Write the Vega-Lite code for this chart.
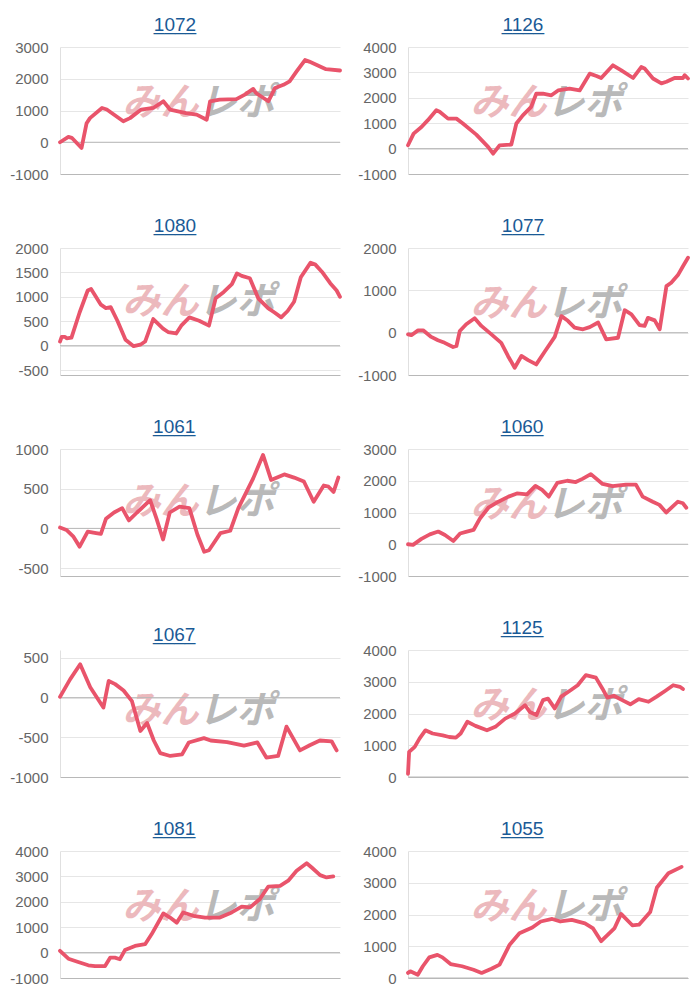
{
"$schema": "https://vega.github.io/schema/vega-lite/v6.json",
"padding": {"top": 15, "left": 8, "right": 5, "bottom": 5},
"background": "white",
"columns": 2,
"spacing": {"row": 34, "column": 14},
"config": {
  "view": {"stroke": null},
  "font": "Liberation Sans",
  "title": {"fontSize": 19, "color": "#1a5a96", "fontWeight": "normal", "offset": 4, "anchor": "middle", "frame": "bounds", "font": "Liberation Sans", "subtitleFont": "Liberation Sans", "subtitleFontSize": 19, "subtitleColor": "#1a5a96", "subtitlePadding": -20},
  "axisY": {"grid": true, "gridColor": "#e6e6e6", "domainColor": "#e0e0e0", "ticks": false, "labelPadding": 12, "labelFontSize": 15, "labelColor": "#666666", "labelFont": "Liberation Sans", "minExtent": 52, "maxExtent": 52, "labelExpr": "datum.value + ''", "labelOverlap": false, "labelFlush": false, "tickCount": 12},
  "axisX": {"labels": false, "ticks": false, "grid": false, "domainColor": "#b8b8b8"},
  "line": {"color": "#e9546b", "strokeWidth": 3.8, "strokeJoin": "round", "strokeCap": "round"},
  "rule": {"color": "#b8b8b8", "strokeWidth": 1}
},
"datasets": {
  "p1072": [{"x":0,"y":0},{"x":3,"y":170},{"x":4.2,"y":140},{"x":7.7,"y":-180},{"x":9.5,"y":600},{"x":10.7,"y":760},{"x":15,"y":1080},{"x":16.7,"y":1030},{"x":22.6,"y":660},{"x":25,"y":760},{"x":29,"y":1030},{"x":33.3,"y":1080},{"x":36.9,"y":1290},{"x":39.3,"y":1030},{"x":45,"y":920},{"x":48.8,"y":870},{"x":52.4,"y":710},{"x":53.6,"y":1290},{"x":57,"y":1340},{"x":63,"y":1360},{"x":66,"y":1500},{"x":69,"y":1680},{"x":70,"y":1550},{"x":74.4,"y":1290},{"x":76.8,"y":1710},{"x":79.8,"y":1810},{"x":82,"y":1920},{"x":84.5,"y":2230},{"x":87.5,"y":2590},{"x":89,"y":2540},{"x":95,"y":2300},{"x":100,"y":2260}],
  "p1126": [{"x":0,"y":130},{"x":2,"y":590},{"x":4.8,"y":850},{"x":7.1,"y":1120},{"x":10.1,"y":1510},{"x":11.3,"y":1450},{"x":14.3,"y":1180},{"x":17.3,"y":1180},{"x":19.6,"y":990},{"x":24.4,"y":550},{"x":28.6,"y":70},{"x":30.4,"y":-200},{"x":32.7,"y":130},{"x":36.9,"y":160},{"x":38.7,"y":990},{"x":41,"y":1310},{"x":44,"y":1640},{"x":45.8,"y":2160},{"x":48.2,"y":2160},{"x":51.2,"y":2100},{"x":53.6,"y":2290},{"x":57.7,"y":2360},{"x":61.3,"y":2290},{"x":64.9,"y":2950},{"x":67.3,"y":2860},{"x":69,"y":2780},{"x":73.2,"y":3280},{"x":76.2,"y":3080},{"x":80.4,"y":2780},{"x":83.3,"y":3210},{"x":84.5,"y":3150},{"x":87.5,"y":2760},{"x":90.5,"y":2570},{"x":92.3,"y":2630},{"x":95.2,"y":2780},{"x":98.2,"y":2780},{"x":98.8,"y":2890},{"x":100,"y":2760}],
  "p1080": [{"x":0,"y":85},{"x":0.6,"y":180},{"x":1.8,"y":180},{"x":2.4,"y":150},{"x":4.1,"y":165},{"x":7,"y":680},{"x":9.9,"y":1130},{"x":11.1,"y":1160},{"x":14.6,"y":840},{"x":16.4,"y":770},{"x":18.1,"y":790},{"x":20.5,"y":510},{"x":23.4,"y":120},{"x":26.3,"y":-10},{"x":28.7,"y":20},{"x":30.4,"y":85},{"x":33.3,"y":545},{"x":36.8,"y":350},{"x":38.6,"y":280},{"x":41.5,"y":250},{"x":43.3,"y":410},{"x":46.2,"y":580},{"x":49.7,"y":510},{"x":53.2,"y":410},{"x":55.6,"y":970},{"x":58.5,"y":1100},{"x":61.4,"y":1260},{"x":63.2,"y":1480},{"x":64.9,"y":1430},{"x":67.8,"y":1380},{"x":70.8,"y":970},{"x":74.3,"y":770},{"x":76.6,"y":680},{"x":79,"y":580},{"x":81.3,"y":710},{"x":83.6,"y":900},{"x":86,"y":1400},{"x":89.5,"y":1700},{"x":91.2,"y":1660},{"x":93.6,"y":1510},{"x":96.5,"y":1280},{"x":98.8,"y":1130},{"x":100,"y":1000}],
  "p1077": [{"x":0,"y":-40},{"x":1.2,"y":-60},{"x":3.6,"y":55},{"x":5.4,"y":55},{"x":8.3,"y":-100},{"x":10.7,"y":-180},{"x":13.1,"y":-240},{"x":16.1,"y":-340},{"x":17.3,"y":-315},{"x":18.5,"y":40},{"x":20.8,"y":200},{"x":23.8,"y":340},{"x":26.2,"y":160},{"x":29.8,"y":-40},{"x":33.3,"y":-240},{"x":35.7,"y":-550},{"x":38.1,"y":-830},{"x":40.5,"y":-550},{"x":42.9,"y":-650},{"x":45.8,"y":-750},{"x":48.8,"y":-450},{"x":52.4,"y":-100},{"x":54.8,"y":390},{"x":57.1,"y":280},{"x":59.5,"y":120},{"x":62.5,"y":80},{"x":64.9,"y":130},{"x":67.9,"y":240},{"x":70.8,"y":-160},{"x":75,"y":-120},{"x":77.4,"y":530},{"x":79.8,"y":430},{"x":82.7,"y":180},{"x":84.5,"y":160},{"x":85.7,"y":350},{"x":88.1,"y":290},{"x":89.9,"y":80},{"x":92.3,"y":1100},{"x":94,"y":1180},{"x":96.4,"y":1360},{"x":98.2,"y":1570},{"x":100,"y":1770}],
  "p1061": [{"x":0,"y":10},{"x":2.3,"y":-20},{"x":4.7,"y":-100},{"x":7,"y":-230},{"x":9.9,"y":-40},{"x":12.9,"y":-60},{"x":14.6,"y":-70},{"x":16.4,"y":120},{"x":19.3,"y":200},{"x":22.2,"y":255},{"x":24.6,"y":100},{"x":27.5,"y":200},{"x":32.2,"y":355},{"x":34.5,"y":120},{"x":36.8,"y":-140},{"x":39.2,"y":200},{"x":42.7,"y":275},{"x":46.2,"y":255},{"x":49.1,"y":-80},{"x":51.5,"y":-295},{"x":53.2,"y":-275},{"x":57.3,"y":-60},{"x":60.8,"y":-30},{"x":63.7,"y":255},{"x":69,"y":630},{"x":72.5,"y":925},{"x":75.4,"y":610},{"x":80.1,"y":680},{"x":83.6,"y":640},{"x":87.1,"y":590},{"x":90.6,"y":335},{"x":94.2,"y":540},{"x":95.9,"y":525},{"x":97.7,"y":460},{"x":99.4,"y":640}],
  "p1060": [{"x":0,"y":0},{"x":1.8,"y":-20},{"x":4.8,"y":170},{"x":7.8,"y":310},{"x":10.8,"y":400},{"x":13.2,"y":290},{"x":16.2,"y":100},{"x":18.6,"y":340},{"x":21,"y":400},{"x":23.4,"y":450},{"x":25.7,"y":810},{"x":28.7,"y":1150},{"x":32.3,"y":1340},{"x":35.9,"y":1500},{"x":38.9,"y":1600},{"x":42.5,"y":1570},{"x":45.5,"y":1840},{"x":47.9,"y":1710},{"x":50.3,"y":1500},{"x":53.3,"y":1930},{"x":56.9,"y":2000},{"x":59.9,"y":1960},{"x":62.3,"y":2060},{"x":65.3,"y":2210},{"x":69.5,"y":1900},{"x":73.1,"y":1830},{"x":77.8,"y":1880},{"x":81.4,"y":1880},{"x":83.8,"y":1500},{"x":87.4,"y":1340},{"x":89.8,"y":1240},{"x":92.2,"y":1000},{"x":96.4,"y":1340},{"x":98.2,"y":1290},{"x":99.4,"y":1150}],
  "p1067": [{"x":0,"y":10},{"x":3.6,"y":230},{"x":7.2,"y":420},{"x":10.8,"y":130},{"x":15.5,"y":-125},{"x":17.4,"y":210},{"x":19.7,"y":170},{"x":22.7,"y":90},{"x":25.7,"y":-45},{"x":28.7,"y":-420},{"x":31.1,"y":-320},{"x":33.5,"y":-540},{"x":35.8,"y":-700},{"x":39.4,"y":-735},{"x":43.6,"y":-715},{"x":46,"y":-565},{"x":51.4,"y":-510},{"x":53.8,"y":-540},{"x":59.7,"y":-560},{"x":65.7,"y":-605},{"x":70.5,"y":-565},{"x":73.7,"y":-755},{"x":77.9,"y":-735},{"x":80.9,"y":-365},{"x":85.7,"y":-665},{"x":89.2,"y":-600},{"x":92.8,"y":-540},{"x":97,"y":-550},{"x":98.8,"y":-665}],
  "p1125": [{"x":0,"y":100},{"x":0.4,"y":790},{"x":2.4,"y":950},{"x":4.1,"y":1210},{"x":6.2,"y":1470},{"x":8.8,"y":1370},{"x":12.4,"y":1310},{"x":14.7,"y":1260},{"x":17.1,"y":1240},{"x":18.8,"y":1370},{"x":21.2,"y":1740},{"x":24.1,"y":1610},{"x":28.2,"y":1470},{"x":31.2,"y":1580},{"x":34.7,"y":1840},{"x":38.2,"y":2000},{"x":41.8,"y":2260},{"x":43.5,"y":2050},{"x":45.9,"y":1950},{"x":48.2,"y":2420},{"x":50,"y":2470},{"x":52.4,"y":2160},{"x":54.7,"y":2530},{"x":58.2,"y":2740},{"x":60.6,"y":2890},{"x":63.5,"y":3210},{"x":67.1,"y":3130},{"x":69.4,"y":2790},{"x":71.2,"y":2500},{"x":73.5,"y":2560},{"x":76.5,"y":2420},{"x":79.4,"y":2290},{"x":82.4,"y":2450},{"x":85.9,"y":2370},{"x":88.8,"y":2530},{"x":91.8,"y":2710},{"x":94.7,"y":2890},{"x":97.1,"y":2840},{"x":98.2,"y":2770}],
  "p1081": [{"x":0,"y":70},{"x":3,"y":-240},{"x":6.5,"y":-370},{"x":10.1,"y":-500},{"x":12.5,"y":-530},{"x":16.1,"y":-530},{"x":17.9,"y":-200},{"x":19.6,"y":-200},{"x":21.4,"y":-260},{"x":23.2,"y":100},{"x":26.8,"y":260},{"x":30.4,"y":330},{"x":32.7,"y":720},{"x":36.9,"y":1540},{"x":39.3,"y":1380},{"x":41.7,"y":1180},{"x":44,"y":1580},{"x":47.6,"y":1450},{"x":51.8,"y":1380},{"x":57.1,"y":1380},{"x":61.3,"y":1580},{"x":64.9,"y":1810},{"x":67.9,"y":1780},{"x":71.4,"y":2110},{"x":74.4,"y":2600},{"x":78.6,"y":2630},{"x":81.5,"y":2830},{"x":84.5,"y":3220},{"x":88.1,"y":3520},{"x":89.9,"y":3350},{"x":92.9,"y":3050},{"x":95.2,"y":2960},{"x":97.6,"y":3000}],
  "p1055": [{"x":0,"y":160},{"x":0.8,"y":210},{"x":3.5,"y":100},{"x":5.3,"y":370},{"x":7.6,"y":650},{"x":10.5,"y":730},{"x":12.3,"y":650},{"x":15.2,"y":440},{"x":19.3,"y":370},{"x":23.4,"y":260},{"x":26.3,"y":160},{"x":29.8,"y":290},{"x":32.7,"y":420},{"x":36.3,"y":1050},{"x":39.8,"y":1410},{"x":44.4,"y":1590},{"x":47.4,"y":1780},{"x":51.5,"y":1860},{"x":54.4,"y":1780},{"x":58.5,"y":1830},{"x":63.2,"y":1720},{"x":66.1,"y":1560},{"x":69,"y":1160},{"x":73.7,"y":1560},{"x":76.1,"y":2020},{"x":80.1,"y":1660},{"x":82.5,"y":1680},{"x":86.5,"y":2080},{"x":88.9,"y":2850},{"x":93,"y":3300},{"x":97.7,"y":3500}]
},
"concat": [
  {"title": {"text": "1072", "subtitle": "____"}, "width": 280, "height": 127, "layer": [
    {"data": {"name": "p1072"}, "mark": {"type": "line", "opacity": 0}, "encoding": {"x": {"field": "x", "type": "quantitative", "scale": {"domain": [0, 100]}, "axis": {"title": null}}, "y": {"field": "y", "type": "quantitative", "scale": {"domain": [-1000, 3000]}, "axis": {"title": null, "values": [-1000, 0, 1000, 2000, 3000], "tickCount": 12}}}},
    {"data": {"values": [{}]}, "mark": {"type": "text", "text": "みん", "align": "right", "baseline": "middle", "font": "Noto Sans CJK JP", "fontSize": 38, "fontWeight": "bold", "fontStyle": "italic", "color": "#ecb9bd"}, "encoding": {"x": {"datum": 49.5, "type": "quantitative"}, "y": {"datum": 1200, "type": "quantitative"}}},
    {"data": {"values": [{}]}, "mark": {"type": "text", "text": "レポ", "align": "left", "baseline": "middle", "font": "Noto Sans CJK JP", "fontSize": 38, "fontWeight": "bold", "fontStyle": "italic", "color": "#b9b9b9"}, "encoding": {"x": {"datum": 49.5, "type": "quantitative"}, "y": {"datum": 1200, "type": "quantitative"}}},
    {"data": {"values": [{}]}, "mark": "rule", "encoding": {"y": {"datum": 0, "type": "quantitative"}}},
    {"data": {"name": "p1072"}, "mark": "line", "encoding": {"x": {"field": "x", "type": "quantitative"}, "y": {"field": "y", "type": "quantitative"}}}
  ]},
  {"title": {"text": "1126", "subtitle": "____"}, "width": 280, "height": 127, "layer": [
    {"data": {"name": "p1126"}, "mark": {"type": "line", "opacity": 0}, "encoding": {"x": {"field": "x", "type": "quantitative", "scale": {"domain": [0, 100]}, "axis": {"title": null}}, "y": {"field": "y", "type": "quantitative", "scale": {"domain": [-1000, 4000]}, "axis": {"title": null, "values": [-1000, 0, 1000, 2000, 3000, 4000], "tickCount": 12}}}},
    {"data": {"values": [{}]}, "mark": {"type": "text", "text": "みん", "align": "right", "baseline": "middle", "font": "Noto Sans CJK JP", "fontSize": 38, "fontWeight": "bold", "fontStyle": "italic", "color": "#ecb9bd"}, "encoding": {"x": {"datum": 49.5, "type": "quantitative"}, "y": {"datum": 1750, "type": "quantitative"}}},
    {"data": {"values": [{}]}, "mark": {"type": "text", "text": "レポ", "align": "left", "baseline": "middle", "font": "Noto Sans CJK JP", "fontSize": 38, "fontWeight": "bold", "fontStyle": "italic", "color": "#b9b9b9"}, "encoding": {"x": {"datum": 49.5, "type": "quantitative"}, "y": {"datum": 1750, "type": "quantitative"}}},
    {"data": {"values": [{}]}, "mark": "rule", "encoding": {"y": {"datum": 0, "type": "quantitative"}}},
    {"data": {"name": "p1126"}, "mark": "line", "encoding": {"x": {"field": "x", "type": "quantitative"}, "y": {"field": "y", "type": "quantitative"}}}
  ]},
  {"title": {"text": "1080", "subtitle": "____"}, "width": 280, "height": 127, "layer": [
    {"data": {"name": "p1080"}, "mark": {"type": "line", "opacity": 0}, "encoding": {"x": {"field": "x", "type": "quantitative", "scale": {"domain": [0, 100]}, "axis": {"title": null}}, "y": {"field": "y", "type": "quantitative", "scale": {"domain": [-500, 2000]}, "axis": {"title": null, "values": [-500, 0, 500, 1000, 1500, 2000], "tickCount": 12}}}},
    {"data": {"values": [{}]}, "mark": {"type": "text", "text": "みん", "align": "right", "baseline": "middle", "font": "Noto Sans CJK JP", "fontSize": 38, "fontWeight": "bold", "fontStyle": "italic", "color": "#ecb9bd"}, "encoding": {"x": {"datum": 49.5, "type": "quantitative"}, "y": {"datum": 875, "type": "quantitative"}}},
    {"data": {"values": [{}]}, "mark": {"type": "text", "text": "レポ", "align": "left", "baseline": "middle", "font": "Noto Sans CJK JP", "fontSize": 38, "fontWeight": "bold", "fontStyle": "italic", "color": "#b9b9b9"}, "encoding": {"x": {"datum": 49.5, "type": "quantitative"}, "y": {"datum": 875, "type": "quantitative"}}},
    {"data": {"values": [{}]}, "mark": "rule", "encoding": {"y": {"datum": 0, "type": "quantitative"}}},
    {"data": {"name": "p1080"}, "mark": "line", "encoding": {"x": {"field": "x", "type": "quantitative"}, "y": {"field": "y", "type": "quantitative"}}}
  ]},
  {"title": {"text": "1077", "subtitle": "____"}, "width": 280, "height": 127, "layer": [
    {"data": {"name": "p1077"}, "mark": {"type": "line", "opacity": 0}, "encoding": {"x": {"field": "x", "type": "quantitative", "scale": {"domain": [0, 100]}, "axis": {"title": null}}, "y": {"field": "y", "type": "quantitative", "scale": {"domain": [-1000, 2000]}, "axis": {"title": null, "values": [-1000, 0, 1000, 2000], "tickCount": 12}}}},
    {"data": {"values": [{}]}, "mark": {"type": "text", "text": "みん", "align": "right", "baseline": "middle", "font": "Noto Sans CJK JP", "fontSize": 38, "fontWeight": "bold", "fontStyle": "italic", "color": "#ecb9bd"}, "encoding": {"x": {"datum": 49.5, "type": "quantitative"}, "y": {"datum": 650, "type": "quantitative"}}},
    {"data": {"values": [{}]}, "mark": {"type": "text", "text": "レポ", "align": "left", "baseline": "middle", "font": "Noto Sans CJK JP", "fontSize": 38, "fontWeight": "bold", "fontStyle": "italic", "color": "#b9b9b9"}, "encoding": {"x": {"datum": 49.5, "type": "quantitative"}, "y": {"datum": 650, "type": "quantitative"}}},
    {"data": {"values": [{}]}, "mark": "rule", "encoding": {"y": {"datum": 0, "type": "quantitative"}}},
    {"data": {"name": "p1077"}, "mark": "line", "encoding": {"x": {"field": "x", "type": "quantitative"}, "y": {"field": "y", "type": "quantitative"}}}
  ]},
  {"title": {"text": "1061", "subtitle": "____"}, "width": 280, "height": 127, "layer": [
    {"data": {"name": "p1061"}, "mark": {"type": "line", "opacity": 0}, "encoding": {"x": {"field": "x", "type": "quantitative", "scale": {"domain": [0, 100]}, "axis": {"title": null}}, "y": {"field": "y", "type": "quantitative", "scale": {"domain": [-500, 1000]}, "axis": {"title": null, "values": [-500, 0, 500, 1000], "tickCount": 12}}}},
    {"data": {"values": [{}]}, "mark": {"type": "text", "text": "みん", "align": "right", "baseline": "middle", "font": "Noto Sans CJK JP", "fontSize": 38, "fontWeight": "bold", "fontStyle": "italic", "color": "#ecb9bd"}, "encoding": {"x": {"datum": 49.5, "type": "quantitative"}, "y": {"datum": 325, "type": "quantitative"}}},
    {"data": {"values": [{}]}, "mark": {"type": "text", "text": "レポ", "align": "left", "baseline": "middle", "font": "Noto Sans CJK JP", "fontSize": 38, "fontWeight": "bold", "fontStyle": "italic", "color": "#b9b9b9"}, "encoding": {"x": {"datum": 49.5, "type": "quantitative"}, "y": {"datum": 325, "type": "quantitative"}}},
    {"data": {"values": [{}]}, "mark": "rule", "encoding": {"y": {"datum": 0, "type": "quantitative"}}},
    {"data": {"name": "p1061"}, "mark": "line", "encoding": {"x": {"field": "x", "type": "quantitative"}, "y": {"field": "y", "type": "quantitative"}}}
  ]},
  {"title": {"text": "1060", "subtitle": "____"}, "width": 280, "height": 127, "layer": [
    {"data": {"name": "p1060"}, "mark": {"type": "line", "opacity": 0}, "encoding": {"x": {"field": "x", "type": "quantitative", "scale": {"domain": [0, 100]}, "axis": {"title": null}}, "y": {"field": "y", "type": "quantitative", "scale": {"domain": [-1000, 3000]}, "axis": {"title": null, "values": [-1000, 0, 1000, 2000, 3000], "tickCount": 12}}}},
    {"data": {"values": [{}]}, "mark": {"type": "text", "text": "みん", "align": "right", "baseline": "middle", "font": "Noto Sans CJK JP", "fontSize": 38, "fontWeight": "bold", "fontStyle": "italic", "color": "#ecb9bd"}, "encoding": {"x": {"datum": 49.5, "type": "quantitative"}, "y": {"datum": 1200, "type": "quantitative"}}},
    {"data": {"values": [{}]}, "mark": {"type": "text", "text": "レポ", "align": "left", "baseline": "middle", "font": "Noto Sans CJK JP", "fontSize": 38, "fontWeight": "bold", "fontStyle": "italic", "color": "#b9b9b9"}, "encoding": {"x": {"datum": 49.5, "type": "quantitative"}, "y": {"datum": 1200, "type": "quantitative"}}},
    {"data": {"values": [{}]}, "mark": "rule", "encoding": {"y": {"datum": 0, "type": "quantitative"}}},
    {"data": {"name": "p1060"}, "mark": "line", "encoding": {"x": {"field": "x", "type": "quantitative"}, "y": {"field": "y", "type": "quantitative"}}}
  ]},
  {"title": {"text": "1067", "subtitle": "____"}, "width": 280, "height": 127, "layer": [
    {"data": {"name": "p1067"}, "mark": {"type": "line", "opacity": 0}, "encoding": {"x": {"field": "x", "type": "quantitative", "scale": {"domain": [0, 100]}, "axis": {"title": null}}, "y": {"field": "y", "type": "quantitative", "scale": {"domain": [-1000, 500]}, "axis": {"title": null, "values": [-1000, -500, 0, 500], "tickCount": 12}}}},
    {"data": {"values": [{}]}, "mark": {"type": "text", "text": "みん", "align": "right", "baseline": "middle", "font": "Noto Sans CJK JP", "fontSize": 38, "fontWeight": "bold", "fontStyle": "italic", "color": "#ecb9bd"}, "encoding": {"x": {"datum": 49.5, "type": "quantitative"}, "y": {"datum": -175, "type": "quantitative"}}},
    {"data": {"values": [{}]}, "mark": {"type": "text", "text": "レポ", "align": "left", "baseline": "middle", "font": "Noto Sans CJK JP", "fontSize": 38, "fontWeight": "bold", "fontStyle": "italic", "color": "#b9b9b9"}, "encoding": {"x": {"datum": 49.5, "type": "quantitative"}, "y": {"datum": -175, "type": "quantitative"}}},
    {"data": {"values": [{}]}, "mark": "rule", "encoding": {"y": {"datum": 0, "type": "quantitative"}}},
    {"data": {"name": "p1067"}, "mark": "line", "encoding": {"x": {"field": "x", "type": "quantitative"}, "y": {"field": "y", "type": "quantitative"}}}
  ]},
  {"title": {"text": "1125", "subtitle": "____"}, "width": 280, "height": 127, "layer": [
    {"data": {"name": "p1125"}, "mark": {"type": "line", "opacity": 0}, "encoding": {"x": {"field": "x", "type": "quantitative", "scale": {"domain": [0, 100]}, "axis": {"title": null}}, "y": {"field": "y", "type": "quantitative", "scale": {"domain": [0, 4000]}, "axis": {"title": null, "values": [0, 1000, 2000, 3000, 4000], "tickCount": 12}}}},
    {"data": {"values": [{}]}, "mark": {"type": "text", "text": "みん", "align": "right", "baseline": "middle", "font": "Noto Sans CJK JP", "fontSize": 38, "fontWeight": "bold", "fontStyle": "italic", "color": "#ecb9bd"}, "encoding": {"x": {"datum": 49.5, "type": "quantitative"}, "y": {"datum": 2200, "type": "quantitative"}}},
    {"data": {"values": [{}]}, "mark": {"type": "text", "text": "レポ", "align": "left", "baseline": "middle", "font": "Noto Sans CJK JP", "fontSize": 38, "fontWeight": "bold", "fontStyle": "italic", "color": "#b9b9b9"}, "encoding": {"x": {"datum": 49.5, "type": "quantitative"}, "y": {"datum": 2200, "type": "quantitative"}}},
    {"data": {"values": [{}]}, "mark": "rule", "encoding": {"y": {"datum": 0, "type": "quantitative"}}},
    {"data": {"name": "p1125"}, "mark": "line", "encoding": {"x": {"field": "x", "type": "quantitative"}, "y": {"field": "y", "type": "quantitative"}}}
  ]},
  {"title": {"text": "1081", "subtitle": "____"}, "width": 280, "height": 127, "layer": [
    {"data": {"name": "p1081"}, "mark": {"type": "line", "opacity": 0}, "encoding": {"x": {"field": "x", "type": "quantitative", "scale": {"domain": [0, 100]}, "axis": {"title": null}}, "y": {"field": "y", "type": "quantitative", "scale": {"domain": [-1000, 4000]}, "axis": {"title": null, "values": [-1000, 0, 1000, 2000, 3000, 4000], "tickCount": 12}}}},
    {"data": {"values": [{}]}, "mark": {"type": "text", "text": "みん", "align": "right", "baseline": "middle", "font": "Noto Sans CJK JP", "fontSize": 38, "fontWeight": "bold", "fontStyle": "italic", "color": "#ecb9bd"}, "encoding": {"x": {"datum": 49.5, "type": "quantitative"}, "y": {"datum": 1750, "type": "quantitative"}}},
    {"data": {"values": [{}]}, "mark": {"type": "text", "text": "レポ", "align": "left", "baseline": "middle", "font": "Noto Sans CJK JP", "fontSize": 38, "fontWeight": "bold", "fontStyle": "italic", "color": "#b9b9b9"}, "encoding": {"x": {"datum": 49.5, "type": "quantitative"}, "y": {"datum": 1750, "type": "quantitative"}}},
    {"data": {"values": [{}]}, "mark": "rule", "encoding": {"y": {"datum": 0, "type": "quantitative"}}},
    {"data": {"name": "p1081"}, "mark": "line", "encoding": {"x": {"field": "x", "type": "quantitative"}, "y": {"field": "y", "type": "quantitative"}}}
  ]},
  {"title": {"text": "1055", "subtitle": "____"}, "width": 280, "height": 127, "layer": [
    {"data": {"name": "p1055"}, "mark": {"type": "line", "opacity": 0}, "encoding": {"x": {"field": "x", "type": "quantitative", "scale": {"domain": [0, 100]}, "axis": {"title": null}}, "y": {"field": "y", "type": "quantitative", "scale": {"domain": [0, 4000]}, "axis": {"title": null, "values": [0, 1000, 2000, 3000, 4000], "tickCount": 12}}}},
    {"data": {"values": [{}]}, "mark": {"type": "text", "text": "みん", "align": "right", "baseline": "middle", "font": "Noto Sans CJK JP", "fontSize": 38, "fontWeight": "bold", "fontStyle": "italic", "color": "#ecb9bd"}, "encoding": {"x": {"datum": 49.5, "type": "quantitative"}, "y": {"datum": 2200, "type": "quantitative"}}},
    {"data": {"values": [{}]}, "mark": {"type": "text", "text": "レポ", "align": "left", "baseline": "middle", "font": "Noto Sans CJK JP", "fontSize": 38, "fontWeight": "bold", "fontStyle": "italic", "color": "#b9b9b9"}, "encoding": {"x": {"datum": 49.5, "type": "quantitative"}, "y": {"datum": 2200, "type": "quantitative"}}},
    {"data": {"values": [{}]}, "mark": "rule", "encoding": {"y": {"datum": 0, "type": "quantitative"}}},
    {"data": {"name": "p1055"}, "mark": "line", "encoding": {"x": {"field": "x", "type": "quantitative"}, "y": {"field": "y", "type": "quantitative"}}}
  ]}
]
}
